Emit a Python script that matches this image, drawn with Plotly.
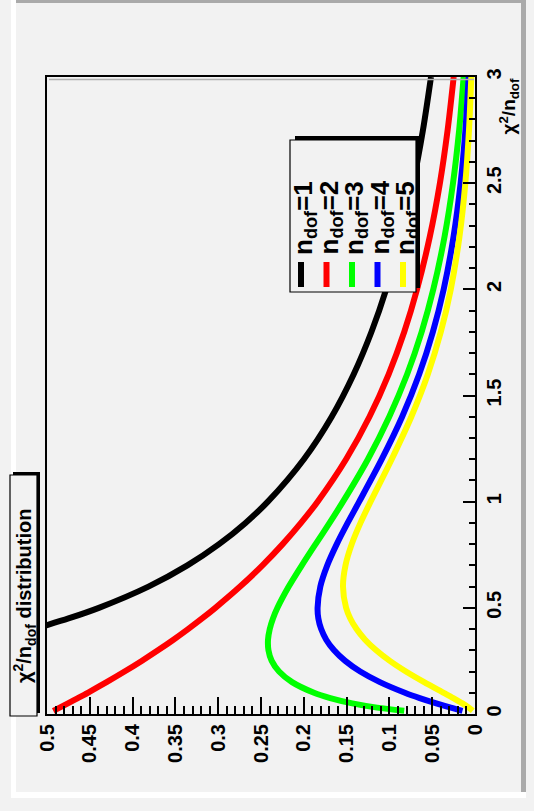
import plotly.graph_objects as go

# ---------------- data ----------------
chi2_black = [0.40, 0.42, 0.45, 0.5, 0.6, 0.7, 0.8, 0.9, 1.0, 1.2, 1.4, 1.6, 1.8,
              2.0, 2.25, 2.5, 2.75, 3.0]
dens_ndf1 = [0.516, 0.499, 0.4749, 0.4394, 0.3815, 0.3360, 0.2990, 0.2681, 0.2420,
             0.1999, 0.1674, 0.1417, 0.1209, 0.1038, 0.0864, 0.0723, 0.0608, 0.0514]

chi2_grid = [0.015, 0.03, 0.05, 0.075, 0.1, 0.15, 0.2, 0.25, 0.3, 0.35, 0.4, 0.45,
             0.5, 0.6, 0.7, 0.8, 0.9, 1.0, 1.2, 1.4, 1.6, 1.8, 2.0, 2.25, 2.5, 2.75, 3.0]
dens_ndf2 = [0.4926, 0.4852, 0.4756, 0.4639, 0.4524, 0.4304, 0.4094, 0.3894, 0.3704,
             0.3523, 0.3352, 0.3188, 0.3033, 0.2744, 0.2483, 0.2247, 0.2033, 0.1839,
             0.1506, 0.1233, 0.1009, 0.0826, 0.0677, 0.0527, 0.0410, 0.0320, 0.0249]
dens_ndf3 = [0.0827, 0.1144, 0.1433, 0.1691, 0.1881, 0.2137, 0.2289, 0.2375, 0.2413,
             0.2418, 0.2398, 0.2360, 0.2308, 0.2176, 0.2023, 0.1862, 0.1699, 0.1542,
             0.1251, 0.1002, 0.0793, 0.0623, 0.0487, 0.0355, 0.0257, 0.0185, 0.0133]
dens_ndf4 = [0.0146, 0.0283, 0.0452, 0.0646, 0.0819, 0.1111, 0.1341, 0.1516, 0.1646,
             0.1738, 0.1797, 0.1830, 0.1839, 0.1807, 0.1726, 0.1615, 0.1488, 0.1353,
             0.1089, 0.0851, 0.0652, 0.0492, 0.0366, 0.0250, 0.0168, 0.0112, 0.0074]
dens_ndf5 = [0.0026, 0.0072, 0.0147, 0.0253, 0.0366, 0.0594, 0.0807, 0.0995, 0.1154,
             0.1284, 0.1384, 0.1457, 0.1506, 0.1542, 0.1513, 0.1440, 0.1338, 0.1220,
             0.0973, 0.0744, 0.0551, 0.0399, 0.0283, 0.0181, 0.0113, 0.0070, 0.0043]

series_labels = ["n<sub>dof</sub>=1", "n<sub>dof</sub>=2", "n<sub>dof</sub>=3",
                 "n<sub>dof</sub>=4", "n<sub>dof</sub>=5"]
series_colors = ["#000000", "#ff0000", "#00ff00", "#0000ff", "#ffff00"]
title_text = "χ<sup>2</sup>/n<sub>dof</sub> distribution"
axis_title = "χ<sup>2</sup>/n<sub>dof</sub>"

# ---------------- layout geometry (pixels) ----------------
W, H = 534, 811
L, R, T, B = 47, 59, 77, 97
PW, PH = W - L - R, H - T - B
FONT = "Liberation Sans, Arial, Helvetica, sans-serif"


def px(X):
    return (X - L) / PW


def py(Y):
    return (H - B - Y) / PH


fig = go.Figure()

curves = [(chi2_black, dens_ndf1)] + [(chi2_grid, d) for d in
                                      (dens_ndf2, dens_ndf3, dens_ndf4, dens_ndf5)]
for (cx, dy), col, lab in zip(curves, series_colors, series_labels):
    fig.add_trace(go.Scatter(x=dy, y=cx, mode="lines", name=lab,
                             line=dict(color=col, width=6, shape="spline", smoothing=0.8),
                             hoverinfo="skip"))

shapes = []
ann = []


def rect(x0, y0, x1, y1, fill, line_color=None, lw=0):
    shapes.append(dict(type="rect", xref="paper", yref="paper",
                       x0=px(x0), x1=px(x1), y0=py(y1), y1=py(y0),
                       fillcolor=fill,
                       line=dict(color=line_color or fill, width=lw), layer="above"))


def seg(x0, y0, x1, y1, color, lw):
    shapes.append(dict(type="line", xref="paper", yref="paper",
                       x0=px(x0), x1=px(x1), y0=py(y0), y1=py(y1),
                       line=dict(color=color, width=lw), layer="above"))


# canvas 3D border
rect(11, 0, 16, 798, "#ffffff")
rect(11, 792, 526, 798, "#ffffff")
rect(16, 0, 526, 3, "#aaaaaa")
rect(521, 0, 526, 792, "#aaaaaa")

# frame inner shade line
seg(49, 79.5, 474, 79.5, "#b0b0b0", 1.5)

# title box (shadow up/right)
rect(13, 472, 40, 713, "#000000")
rect(10, 475, 37, 716, "#f2f2f2", "#000000", 1.2)
ann.append(dict(xref="paper", yref="paper", x=px(24), y=py(596), text=title_text,
                textangle=-90, showarrow=False, xanchor="center", yanchor="middle",
                font=dict(family=FONT, size=20, color="black", weight="bold")))

# legend box (shadow up/right)
rect(295, 136, 420, 288, "#000000")
rect(290, 140, 416, 292, "#f2f2f2", "#000000", 1.2)
for i, (lab, col) in enumerate(zip(series_labels, series_colors)):
    cxp = 301 + 25.5 * i
    seg(cxp, 262, cxp, 287, col, 6)
    ann.append(dict(xref="paper", yref="paper", x=px(cxp + 3), y=py(257), text=lab,
                    textangle=-90, showarrow=False, xanchor="center", yanchor="bottom",
                    font=dict(family=FONT, size=26, color="black", weight="bold")))

# axis title
ann.append(dict(xref="paper", yref="paper", x=px(493), y=py(77), text=axis_title,
                textangle=-90, showarrow=False, xanchor="left", yanchor="top",
                font=dict(family=FONT, size=19, color="black", weight="bold")))

fig.update_layout(
    width=W, height=H, margin=dict(l=L, r=R, t=T, b=B, pad=0),
    paper_bgcolor="#f2f2f2", plot_bgcolor="#f2f2f2",
    showlegend=False, shapes=shapes, annotations=ann,
    font=dict(family=FONT, color="black"),
)
fig.update_xaxes(range=[0.5, 0], dtick=0.05, tick0=0, ticks="inside", ticklen=17,
                 tickwidth=2, tickcolor="black", showgrid=False, zeroline=False,
                 showline=True, linewidth=2, linecolor="black", mirror=True,
                 tickangle=-90,
                 tickfont=dict(family=FONT, size=20, color="black", weight="bold"),
                 minor=dict(dtick=0.01, ticks="inside", ticklen=8, tickwidth=2,
                            tickcolor="black", showgrid=False))
fig.update_yaxes(range=[0, 3], dtick=0.5, tick0=0, side="right", ticks="inside",
                 ticklen=12, tickwidth=2, tickcolor="black", showgrid=False,
                 zeroline=False, showline=True, linewidth=2, linecolor="black",
                 mirror=True, tickangle=-90,
                 tickfont=dict(family=FONT, size=20, color="black", weight="bold"),
                 minor=dict(dtick=0.1, ticks="inside", ticklen=6, tickwidth=2,
                            tickcolor="black", showgrid=False))

fig.write_html("out.html", config={"displayModeBar": False},
               post_script="document.body.style.margin='0';"
                           "document.body.style.padding='0';"
                           "document.body.style.background='#f2f2f2';")
